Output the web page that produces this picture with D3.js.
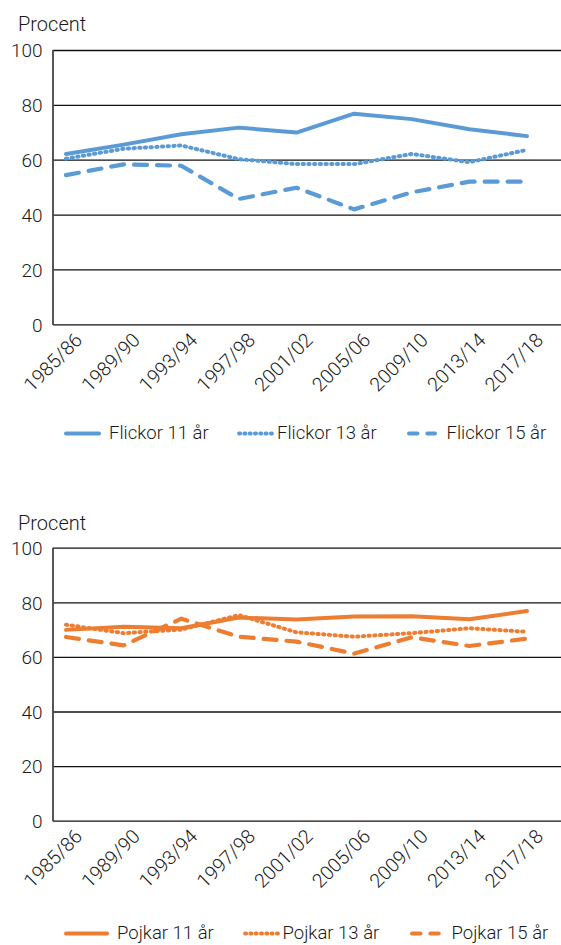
<!DOCTYPE html>
<html>
<head>
<meta charset="utf-8">
<script src="https://cdnjs.cloudflare.com/ajax/libs/d3/7.8.5/d3.min.js"></script>
<style>
html, body { margin: 0; padding: 0; background: #fff; }
svg { display: block; }
text { font-family: Roboto, "Open Sans", sans-serif; font-weight: 400; fill: #1a1a1a; }
</style>
</head>
<body>
<svg id="chart" width="561" height="945"></svg>
<script>
// ---- data ----
const categories = ["1985/86","1989/90","1993/94","1997/98","2001/02","2005/06","2009/10","2013/14","2017/18"];
const yTicks = [0, 20, 40, 60, 80, 100];
const yLabel = "Procent";

const flickorNames = ["Flickor 11 år", "Flickor 13 år", "Flickor 15 år"];
const flickor11 = [62.1, 65.5, 69.3, 71.7, 69.9, 76.8, 74.8, 71.1, 68.6];
const flickor13 = [60.4, 64.0, 65.2, 60.2, 58.4, 58.4, 62.1, 59.1, 63.6];
const flickor15 = [54.4, 58.3, 57.8, 45.7, 49.8, 41.9, 48.1, 52.0, 52.0];

const pojkarNames = ["Pojkar 11 år", "Pojkar 13 år", "Pojkar 15 år"];
const pojkar11 = [69.9, 71.0, 70.5, 74.4, 73.7, 74.8, 74.9, 73.8, 76.8];
const pojkar13 = [71.8, 68.7, 70.0, 75.3, 69.0, 67.4, 68.7, 70.5, 69.2];
const pojkar15 = [67.3, 64.2, 74.0, 67.4, 65.6, 61.2, 67.2, 64.0, 66.7];

// ---- drawing ----
const svg = d3.select("#chart");
const styles = [
  { dash: null, legendDash: null, w: 4 },
  { dash: "1.3,4.4", legendDash: "1.2,4.1", w: 4 },
  { dash: "13,10", legendDash: "8.5,9.8", w: 4.2 }
];

function drawChart(cfg) {
  const g = svg.append("g");
  const x = d3.scalePoint().domain(categories).range([66, 527]);
  const y = d3.scaleLinear().domain([0, 100]).range([cfg.y0, cfg.y100]);
  const axisX = 53;

  // gridlines
  const yAxis = d3.axisLeft(y).tickValues(yTicks).tickSize(-(561 - axisX)).tickPadding(10);
  const ya = g.append("g").attr("transform", `translate(${axisX},0)`).call(yAxis);
  ya.select(".domain").remove();
  ya.selectAll(".tick line").attr("stroke", "#111").attr("stroke-width", 1.3);
  ya.selectAll(".tick text")
    .attr("x", 42.5 - axisX).attr("dy", "0.36em")
    .style("font-size", "19px").style("font-family", "Roboto").style("font-weight", 300)
    .attr("fill", "#1a1a1a");

  // vertical axis line
  g.append("line").attr("x1", axisX).attr("x2", axisX)
    .attr("y1", y(100)).attr("y2", y(0) + 0.6)
    .attr("stroke", "#444").attr("stroke-width", 1.8);

  // y label
  g.append("text").attr("x", 18).attr("y", cfg.labelY).text(yLabel)
    .style("font-size", "20px").style("font-weight", 300);

  // x tick labels
  const xAxis = d3.axisBottom(x).tickSize(0).tickPadding(0);
  const xa = g.append("g").attr("transform", `translate(0,${y(0)})`).call(xAxis);
  xa.select(".domain").remove();
  xa.selectAll(".tick text")
    .attr("y", 0).attr("dy", 0)
    .attr("text-anchor", "end")
    .attr("transform", "translate(17,17) rotate(-45)")
    .style("font-size", "19.5px").style("font-family", "Roboto").style("font-weight", 300)
    .attr("fill", "#1a1a1a");

  // lines
  const line = d3.line().x((d, i) => x(categories[i])).y(d => y(d));
  cfg.series.forEach((s, k) => {
    const p = g.append("path").datum(s).attr("d", line)
      .attr("fill", "none").attr("stroke", cfg.color)
      .attr("stroke-width", styles[k].w)
      .attr("stroke-linejoin", "round").attr("stroke-linecap", "round");
    if (styles[k].dash) p.attr("stroke-dasharray", styles[k].dash);
  });

  // legend
  cfg.legend.forEach((L, k) => {
    const p = g.append("line").attr("x1", L.x1).attr("x2", L.x2)
      .attr("y1", cfg.legendY + 1).attr("y2", cfg.legendY + 1)
      .attr("stroke", cfg.color).attr("stroke-width", k === 1 ? 3.8 : 4)
      .attr("stroke-linecap", "round");
    if (styles[k].legendDash) p.attr("stroke-dasharray", styles[k].legendDash);
    g.append("text").attr("x", L.tx).attr("y", cfg.legendY).attr("dy", "0.36em")
      .text(cfg.names[k]).style("font-size", "18.5px").style("font-weight", 300);
  });
}

drawChart({
  y0: 324.3, y100: 50, labelY: 30.5, color: "#5B9BD5",
  series: [flickor11, flickor13, flickor15], names: flickorNames,
  legendY: 432.5,
  legend: [
    { x1: 66, x2: 99, tx: 109 },
    { x1: 239, x2: 272, tx: 277 },
    { x1: 409, x2: 435, tx: 446.5 }
  ]
});

drawChart({
  y0: 820.7, y100: 547.7, labelY: 529.5, color: "#ED7D31",
  series: [pojkar11, pojkar13, pojkar15], names: pojkarNames,
  legendY: 932.5,
  legend: [
    { x1: 66, x2: 107, tx: 117 },
    { x1: 245, x2: 278, tx: 282.5 },
    { x1: 412, x2: 440, tx: 451.5 }
  ]
});
</script>
</body>
</html>
